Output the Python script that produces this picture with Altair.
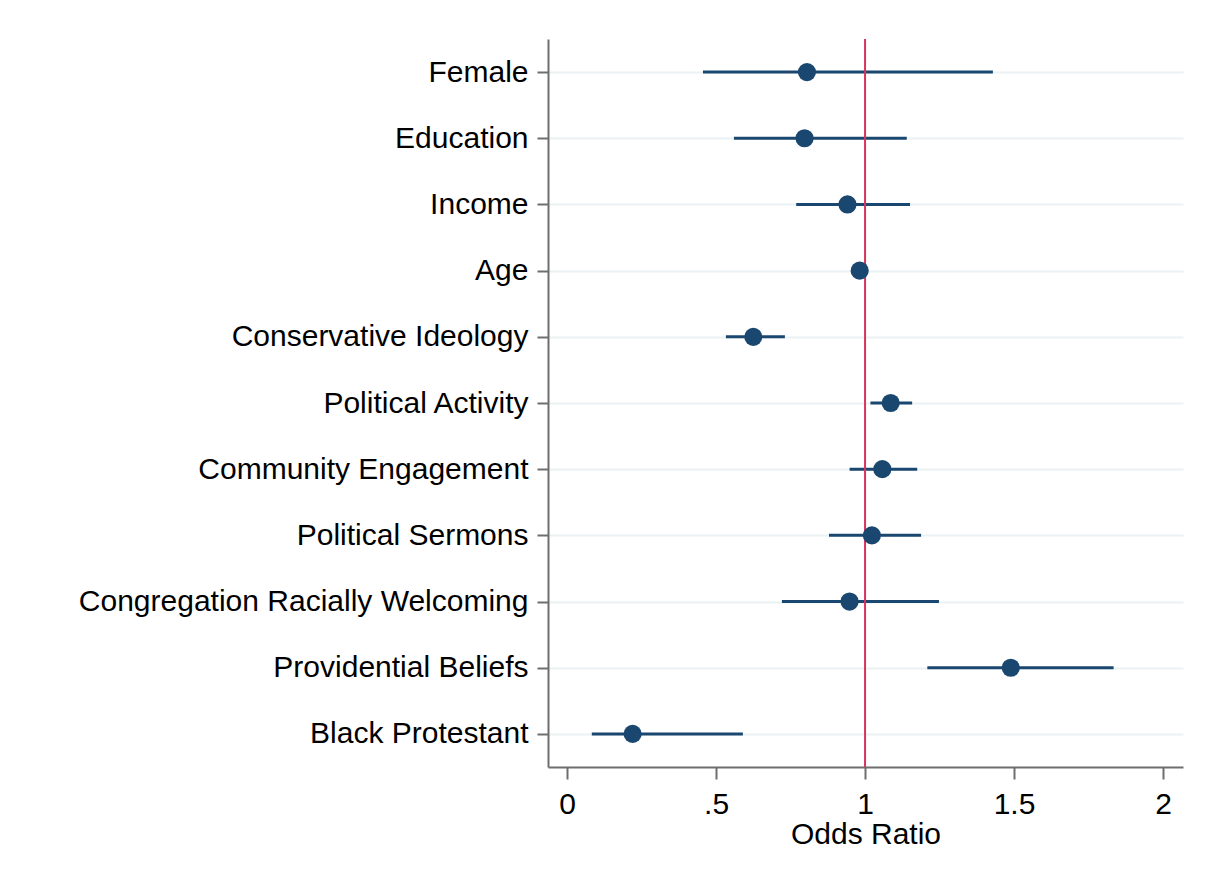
import altair as alt
import pandas as pd

labels = ["Female", "Education", "Income", "Age", "Conservative Ideology",
          "Political Activity", "Community Engagement", "Political Sermons",
          "Congregation Racially Welcoming", "Providential Beliefs", "Black Protestant"]
odds = [0.805, 0.797, 0.941, 0.982, 0.625, 1.086, 1.058, 1.023, 0.948, 1.489, 0.220]
ci_low = [0.456, 0.560, 0.769, 0.970, 0.533, 1.018, 0.948, 0.879, 0.721, 1.209, 0.083]
ci_high = [1.429, 1.140, 1.151, 0.995, 0.731, 1.158, 1.175, 1.188, 1.248, 1.834, 0.590]
tick_values = [0, 0.5, 1, 1.5, 2]
tick_labels = ["0", ".5", "1", "1.5", "2"]
reference = [1]

df = pd.DataFrame({"label": labels, "odds": odds, "lo": ci_low, "hi": ci_high})
ref_df = pd.DataFrame({"ref": reference})

NAVY = "#1a476f"
RED = "#d7335c"
FONT = "Liberation Sans"

label_expr = " : ".join(
    f"datum.value == {v} ? '{l}'" for v, l in zip(tick_values, tick_labels)
) + " : ''"

xscale = alt.Scale(domain=[-0.064, 2.067], nice=False, zero=False)
yscale = alt.Scale(type="point", domain=labels, padding=0.5)

x_axis = alt.Axis(values=tick_values, labelExpr=label_expr, title="Odds Ratio",
                  grid=False, tickSize=12, labelPadding=10, titlePadding=0)
y_axis = alt.Axis(title=None, grid=True, tickSize=11, labelPadding=9, labelLimit=0)

ci = alt.Chart(df).mark_rule(color=NAVY, strokeWidth=3).encode(
    x=alt.X("lo:Q", scale=xscale, axis=x_axis),
    x2="hi:Q",
    y=alt.Y("label:N", scale=yscale, axis=y_axis, sort=labels),
)

ref = alt.Chart(ref_df).mark_rule(color=RED, strokeWidth=2).encode(
    x=alt.X("ref:Q", scale=xscale),
)

pts = alt.Chart(df).mark_circle(color=NAVY, size=330, opacity=1).encode(
    x=alt.X("odds:Q", scale=xscale),
    y=alt.Y("label:N", scale=yscale, sort=labels),
)

chart = alt.layer(ci, ref, pts).properties(
    width=635, height=728,
    autosize=alt.AutoSizeParams(type="none"),
    padding={"left": 540, "top": 31, "right": 15, "bottom": 100},
).configure(
    background="white",
    view=alt.ViewConfig(stroke=None),
    axis=alt.AxisConfig(
        labelFont=FONT, titleFont=FONT, labelFontSize=30, titleFontSize=30,
        labelColor="#000000", titleColor="#000000", titleFontWeight="normal",
        domainColor="#6e6e6e", domainWidth=2, tickColor="#6e6e6e", tickWidth=2,
        gridColor="#eaf2f3", gridWidth=2,
    ),
)

chart.save("out.html", embed_options={"renderer": "svg", "actions": False})
